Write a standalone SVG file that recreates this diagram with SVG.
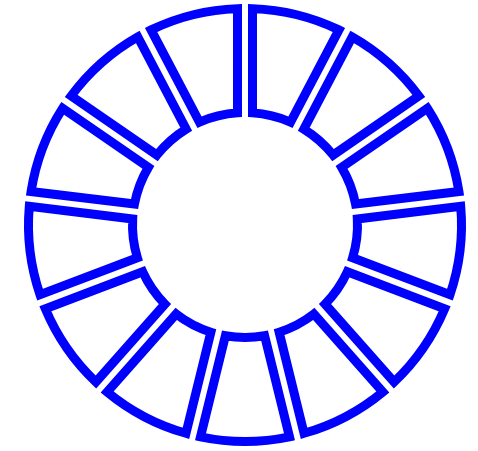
<svg xmlns="http://www.w3.org/2000/svg" xmlns:xlink="http://www.w3.org/1999/xlink" width="478" height="451" viewBox="0 0 478 451">
<style>
.seg{fill:none;stroke:#0000ff;stroke-width:9;stroke-linejoin:miter}
</style>
<defs>
<path id="seg" class="seg" d="M -44.5,-211.88 A 216.5 216.5 0 0 1 44.5,-211.88 L 19.58,-110.78 A 112.5 112.5 0 0 0 -19.58,-110.78 Z"/>
</defs>
<rect width="478" height="451" fill="#ffffff"/>
<g id="connectors"></g>
<g transform="translate(245,225)">
<g id="segment-1"><use href="#seg" xlink:href="#seg" transform="rotate(13.846)"/></g>
<g id="segment-2"><use href="#seg" xlink:href="#seg" transform="rotate(41.538)"/></g>
<g id="segment-3"><use href="#seg" xlink:href="#seg" transform="rotate(69.231)"/></g>
<g id="segment-4"><use href="#seg" xlink:href="#seg" transform="rotate(96.923)"/></g>
<g id="segment-5"><use href="#seg" xlink:href="#seg" transform="rotate(124.615)"/></g>
<g id="segment-6"><use href="#seg" xlink:href="#seg" transform="rotate(152.308)"/></g>
<g id="segment-7"><use href="#seg" xlink:href="#seg" transform="rotate(180)"/></g>
<g id="segment-8"><use href="#seg" xlink:href="#seg" transform="rotate(207.692)"/></g>
<g id="segment-9"><use href="#seg" xlink:href="#seg" transform="rotate(235.385)"/></g>
<g id="segment-10"><use href="#seg" xlink:href="#seg" transform="rotate(263.077)"/></g>
<g id="segment-11"><use href="#seg" xlink:href="#seg" transform="rotate(290.769)"/></g>
<g id="segment-12"><use href="#seg" xlink:href="#seg" transform="rotate(318.462)"/></g>
<g id="segment-13"><use href="#seg" xlink:href="#seg" transform="rotate(346.154)"/></g>
</g>
</svg>
